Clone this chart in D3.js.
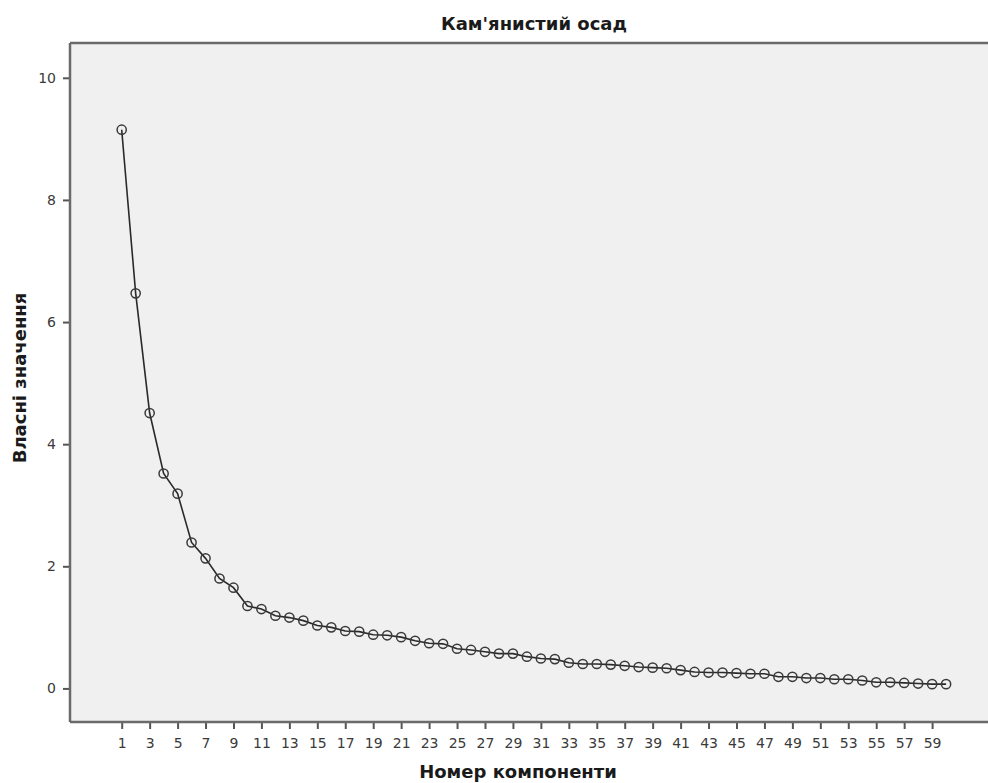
<!DOCTYPE html>
<html>
<head>
<meta charset="utf-8">
<script src="https://cdn.jsdelivr.net/npm/d3@7"></script>
<style>
  html, body { margin: 0; padding: 0; background: #ffffff; }
  svg { display: block; }
</style>
</head>
<body>
<svg id="chart" width="988" height="783"></svg>
<script>
const title = "Кам'янистий осад";
const xTitle = "Номер компоненти";
const yTitle = "Власні значення";

const components = d3.range(1, 61);
const eigenvalues = [
  9.15, 6.47, 4.51, 3.52, 3.19, 2.39, 2.13, 1.80, 1.65, 1.35,
  1.30, 1.19, 1.16, 1.11, 1.03, 1.00, 0.94, 0.93, 0.88, 0.87,
  0.84, 0.78, 0.74, 0.73, 0.65, 0.63, 0.60, 0.57, 0.57, 0.52,
  0.49, 0.48, 0.42, 0.40, 0.40, 0.39, 0.37, 0.35, 0.34, 0.33,
  0.30, 0.27, 0.26, 0.26, 0.25, 0.24, 0.24, 0.19, 0.19, 0.17,
  0.17, 0.15, 0.15, 0.13, 0.10, 0.10, 0.09, 0.08, 0.07, 0.07
];
const xTickValues = d3.range(1, 60, 2);
const yTickValues = [0, 2, 4, 6, 8, 10];

(function () {
const data = components.map((c, i) => ({ c, v: eigenvalues[i] }));

const svg = d3.select("#chart");
const pL = 70, pR = 988, pT = 43, pB = 722;

const x = d3.scaleLinear().domain([-2.7, 63.0]).range([pL, pR]);
const y = d3.scaleLinear().domain([-0.55, 10.57]).range([pB, pT]);

const font = "'DejaVu Sans', sans-serif";

// plot background
svg.append("rect")
  .attr("x", pL).attr("y", pT)
  .attr("width", pR - pL).attr("height", pB - pT)
  .attr("fill", "#f0f0f0");

// axes
const xAxis = svg.append("g")
  .attr("transform", `translate(0,${pB})`)
  .call(d3.axisBottom(x).tickValues(xTickValues).tickSize(7).tickSizeOuter(0).tickPadding(9));
xAxis.select(".domain").remove();
xAxis.selectAll(".tick line").attr("stroke", "#555").attr("stroke-width", 2);
xAxis.selectAll(".tick text")
  .attr("fill", "#3a3a3a").attr("font-family", font).attr("font-size", 14);

const yAxis = svg.append("g")
  .attr("transform", `translate(${pL},0)`)
  .call(d3.axisLeft(y).tickValues(yTickValues).tickSize(7).tickSizeOuter(0).tickPadding(7));
yAxis.select(".domain").remove();
yAxis.selectAll(".tick line").attr("stroke", "#555").attr("stroke-width", 2);
yAxis.selectAll(".tick text")
  .attr("fill", "#3a3a3a").attr("font-family", font).attr("font-size", 14);

// frame lines
const frame = svg.append("g").attr("stroke", "#6a6a6a").attr("stroke-width", 2.5).attr("fill", "none");
frame.append("line").attr("x1", pL).attr("x2", pR).attr("y1", pT).attr("y2", pT);
frame.append("line").attr("x1", pL).attr("x2", pL).attr("y1", pT).attr("y2", pB);
frame.append("line").attr("x1", pL).attr("x2", pR).attr("y1", pB).attr("y2", pB);

// line
const line = d3.line().x(d => x(d.c)).y(d => y(d.v));
svg.append("path")
  .datum(data)
  .attr("d", line)
  .attr("fill", "none")
  .attr("stroke", "#2a2a2a")
  .attr("stroke-width", 1.6);

// markers
svg.append("g").selectAll("circle")
  .data(data)
  .join("circle")
  .attr("cx", d => x(d.c))
  .attr("cy", d => y(d.v))
  .attr("r", 4.6)
  .attr("fill", "none")
  .attr("stroke", "#3a3a3a")
  .attr("stroke-width", 1.5);

// titles
svg.append("text")
  .attr("x", 534).attr("y", 30)
  .attr("text-anchor", "middle")
  .attr("font-family", font).attr("font-weight", "bold").attr("font-size", 18)
  .attr("fill", "#1a1a1a")
  .text(title);

svg.append("text")
  .attr("x", 518).attr("y", 778)
  .attr("text-anchor", "middle")
  .attr("font-family", font).attr("font-weight", "bold").attr("font-size", 18)
  .attr("fill", "#1a1a1a")
  .text(xTitle);

svg.append("text")
  .attr("transform", "translate(26,378) rotate(-90)")
  .attr("text-anchor", "middle")
  .attr("font-family", font).attr("font-weight", "bold").attr("font-size", 18)
  .attr("fill", "#1a1a1a")
  .text(yTitle);
})();
</script>
</body>
</html>
